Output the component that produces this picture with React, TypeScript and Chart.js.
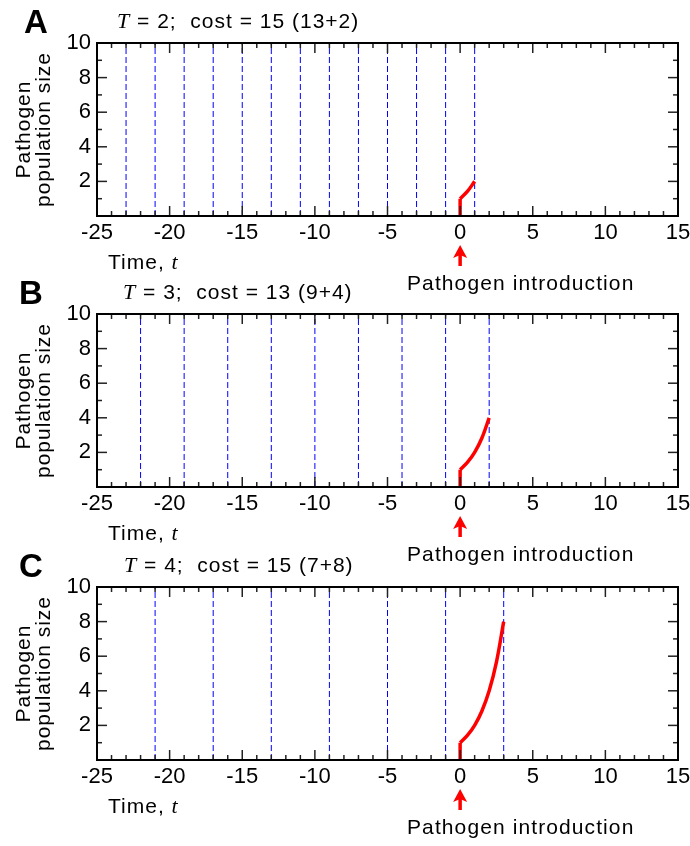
import React, { useEffect, useRef } from "react";
import { Chart, registerables } from "chart.js";

Chart.register(...registerables);

// ---------- data ----------
const X_MIN = -25;
const X_MAX = 15;
const X_STEP = 5;
const Y_MIN = 0;
const Y_MAX = 10;
const Y_STEP = 2;

const panelLetters = ["A", "B", "C"];
const periodT = [2, 3, 4];
const costText = ["15 (13+2)", "13 (9+4)", "15 (7+8)"];

// times of the (blue dashed) interventions
const eventsA = [-23, -21, -19, -17, -15, -13, -11, -9, -7, -5, -3, -1, 1];
const eventsB = [-22, -19, -16, -13, -10, -7, -4, -1, 2];
const eventsC = [-21, -17, -13, -9, -5, -1, 3];

// pathogen population (red curve): introduction jump at t = 0, then growth
const jumpT = [0, 0];
const jumpY = [0, 1];
const growthTA = [0, 0.5, 1];
const growthYA = [1, 1.42, 2];
const growthTB = [0, 0.5, 1, 1.5, 2];
const growthYB = [1, 1.42, 2, 2.83, 4];
const growthTC = [0, 0.5, 1, 1.5, 2, 2.5, 3];
const growthYC = [1, 1.42, 2, 2.83, 4, 5.66, 8];

const introductionT = 0;

const panels = [
  { events: eventsA, gt: growthTA, gy: growthYA },
  { events: eventsB, gt: growthTB, gy: growthYB },
  { events: eventsC, gt: growthTC, gy: growthYC },
];

// ---------- layout ----------
const W = 690;
const H = 300;
const PANEL_TOP = [0, 271, 544];
const TITLE_X = [117, 123, 124];
const LETTER_X = [24, 19, 19];
const SANS = "'Liberation Sans', Arial, Helvetica, sans-serif";
const SERIF = "'Liberation Serif', 'Times New Roman', serif";

Chart.defaults.font.family = SANS;

function pts(xs: number[], ys: number[]) {
  return xs.map((x, i) => ({ x, y: ys[i] }));
}

function makeOverlay(idx: number) {
  return {
    id: "overlay" + idx,
    afterDatasetsDraw(chart: any) {
      const { ctx, chartArea: ca, scales } = chart;
      const x = scales.x;
      const y = scales.y;
      ctx.save();
      ctx.strokeStyle = "#222";
      ctx.lineWidth = 1.5;
      const seg = (x1: number, y1: number, x2: number, y2: number) => {
        ctx.beginPath();
        ctx.moveTo(x1, y1);
        ctx.lineTo(x2, y2);
        ctx.stroke();
      };
      for (let v = X_MIN; v <= X_MAX; v++) {
        const len = v % X_STEP === 0 ? 10 : 5;
        const px = x.getPixelForValue(v);
        seg(px, ca.bottom, px, ca.bottom - len);
        seg(px, ca.top, px, ca.top + len);
      }
      for (let v = Y_MIN; v <= Y_MAX; v++) {
        const len = v % Y_STEP === 0 ? 10 : 5;
        const py = y.getPixelForValue(v);
        seg(ca.left, py, ca.left + len, py);
        seg(ca.right, py, ca.right - len, py);
      }
      ctx.strokeStyle = "#000";
      ctx.lineWidth = 2;
      ctx.strokeRect(ca.left, ca.top, ca.right - ca.left, ca.bottom - ca.top);

      ctx.fillStyle = "#000";
      (ctx as any).letterSpacing = "0px";
      ctx.font = "bold 33px " + SANS;
      ctx.textAlign = "left";
      ctx.textBaseline = "alphabetic";
      ctx.fillText(panelLetters[idx], LETTER_X[idx], 33);

      (ctx as any).letterSpacing = "1px";
      let tx = TITLE_X[idx];
      ctx.font = "italic 22px " + SERIF;
      ctx.fillText("T", tx, 28);
      tx += ctx.measureText("T").width;
      ctx.font = "21px " + SANS;
      ctx.fillText(" = " + periodT[idx] + ";  cost = " + costText[idx], tx, 28);

      const cy = (ca.top + ca.bottom) / 2;
      ctx.save();
      ctx.translate(30, cy);
      ctx.rotate(-Math.PI / 2);
      ctx.textAlign = "center";
      ctx.font = "21px " + SANS;
      ctx.fillText("Pathogen", 0, 0);
      ctx.restore();
      ctx.save();
      ctx.translate(50, cy);
      ctx.rotate(-Math.PI / 2);
      ctx.textAlign = "center";
      ctx.font = "21px " + SANS;
      ctx.fillText("population size", 0, 0);
      ctx.restore();

      ctx.textAlign = "left";
      ctx.font = "21px " + SANS;
      const label = "Time, ";
      ctx.fillText(label, 108, 269);
      const lw = ctx.measureText(label).width;
      ctx.font = "italic 22px " + SERIF;
      ctx.fillText("t", 108 + lw, 269);

      const ax = x.getPixelForValue(introductionT);
      ctx.fillStyle = "#ff0000";
      ctx.strokeStyle = "#ff0000";
      ctx.lineWidth = 3.5;
      seg(ax, 254, ax, 266);
      ctx.beginPath();
      ctx.moveTo(ax, 245);
      ctx.lineTo(ax - 7, 258);
      ctx.lineTo(ax, 255);
      ctx.lineTo(ax + 7, 258);
      ctx.closePath();
      ctx.fill();

      ctx.fillStyle = "#000";
      ctx.font = "21px " + SANS;
      (ctx as any).letterSpacing = "1.1px";
      ctx.fillText("Pathogen introduction", 407, 290);
      ctx.restore();
    },
  };
}

function Panel({ idx }: { idx: number }) {
  const ref = useRef<HTMLCanvasElement>(null);
  useEffect(() => {
    const p = panels[idx];
    const datasets: any[] = [
      {
        data: pts(jumpT, jumpY),
        borderColor: "#ff0000",
        borderWidth: 3.5,
        showLine: true,
        pointRadius: 0,
        tension: 0,
      },
      {
        data: pts(p.gt, p.gy),
        borderColor: "#ff0000",
        borderWidth: 3.5,
        showLine: true,
        pointRadius: 0,
        tension: 0.35,
      },
      ...p.events.map((t) => ({
        data: [
          { x: t, y: Y_MIN },
          { x: t, y: Y_MAX },
        ],
        borderColor: "#0000ff",
        borderWidth: 1,
        borderDash: [6, 3],
        showLine: true,
        pointRadius: 0,
      })),
    ];
    const chart = new Chart(ref.current as HTMLCanvasElement, {
      type: "scatter",
      data: { datasets },
      options: {
        animation: false,
        responsive: false,
        devicePixelRatio: 1,
        layout: { padding: { left: 0, right: 12, top: 43, bottom: 0 } },
        plugins: { legend: { display: false }, tooltip: { enabled: false } },
        scales: {
          x: {
            type: "linear",
            min: X_MIN,
            max: X_MAX,
            grid: { display: false, drawTicks: false },
            border: { display: false },
            ticks: {
              stepSize: X_STEP,
              padding: 4,
              color: "#000",
              font: { size: 22, family: SANS },
              maxRotation: 0,
              autoSkip: false,
            },
            afterFit: (s: any) => {
              s.height = H - 216;
              s.paddingLeft = 0;
              s.paddingRight = 0;
            },
          },
          y: {
            type: "linear",
            min: Y_MIN,
            max: Y_MAX,
            grid: { display: false, drawTicks: false },
            border: { display: false },
            ticks: {
              stepSize: Y_STEP,
              padding: 6,
              color: "#000",
              font: { size: 22, family: SANS },
              callback: (v: any) => (v === 0 ? "" : String(v)),
            },
            afterFit: (s: any) => {
              s.width = 97;
              s.paddingTop = 0;
              s.paddingBottom = 0;
            },
          },
        },
      },
      plugins: [makeOverlay(idx)],
    } as any);
    return () => chart.destroy();
  }, [idx]);
  return (
    <canvas
      ref={ref}
      width={W}
      height={H}
      style={{ position: "absolute", left: 0, top: PANEL_TOP[idx], width: W, height: H }}
    />
  );
}

export default function App() {
  return (
    <div style={{ position: "absolute", left: 0, top: 0, width: 690, height: 846, background: "#fff" }}>
      <Panel idx={0} />
      <Panel idx={1} />
      <Panel idx={2} />
    </div>
  );
}
